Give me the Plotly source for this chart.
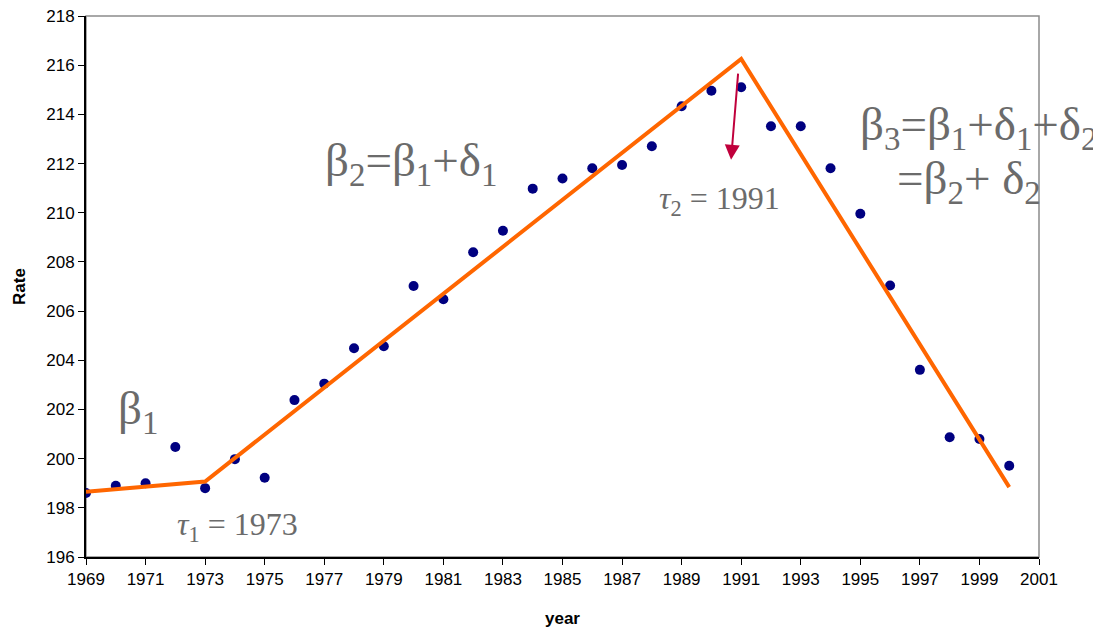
import plotly.graph_objects as go

years = list(range(1969, 2001))
rate = [198.6, 198.9, 199.0, 200.47, 198.8, 199.98, 199.22, 202.38, 203.05, 204.49,
        204.57, 207.02, 206.48, 208.39, 209.27, 210.98, 211.39, 211.81, 211.94, 212.7,
        214.33, 214.96, 215.1, 213.52, 213.52, 211.81, 209.96, 207.04, 203.61, 200.87,
        200.8, 199.71]
fit_years = [1969, 1973, 1991, 2000]
fit_rate = [198.65, 199.07, 216.25, 198.84]

gray = "#6b6b6b"
serif = "Liberation Serif"
tickfont = dict(family="Liberation Sans, Arial", size=17, color="black")

fig = go.Figure()
fig.add_trace(go.Scatter(x=years, y=rate, mode="markers",
                         marker=dict(color="#000080", size=10), showlegend=False))
fig.add_trace(go.Scatter(x=fit_years, y=fit_rate, mode="lines",
                         line=dict(color="#FF6600", width=4), showlegend=False))

fig.update_layout(
    width=1093, height=620,
    margin=dict(l=78, r=62, t=8, b=71),
    plot_bgcolor="white", paper_bgcolor="white",
    font=dict(family="Liberation Sans, Arial", size=17, color="black"),
    xaxis=dict(range=[1969, 2001], tick0=1969, dtick=2, showgrid=False, zeroline=False,
               showline=True, linecolor="black", linewidth=2, ticks="outside", ticklen=6,
               tickcolor="black", tickfont=tickfont, ticklabeloverflow="allow",
               automargin=False,
               title=dict(text="<b>year</b>", standoff=28, font=dict(size=17))),
    yaxis=dict(range=[196, 218], dtick=2, showgrid=False, zeroline=False,
               showline=True, linecolor="black", linewidth=2, ticks="outside", ticklen=6,
               tickcolor="black", tickfont=tickfont, ticklabeloverflow="allow",
               automargin=False,
               title=dict(text="<b>Rate</b>", standoff=16, font=dict(size=17))),
)
fig.add_shape(type="rect", xref="paper", yref="paper", x0=0, y0=0, x1=1, y1=1,
              line=dict(color="#8c8c8c", width=1.5), layer="below")

def txt(x, y, s, size, xanchor="left"):
    fig.add_annotation(x=x, y=y, xref="x", yref="y", text=s, showarrow=False,
                       xanchor=xanchor, yanchor="middle",
                       font=dict(family=serif, size=size, color=gray))

txt(1970.0, 201.9, "β<sub>1</sub>", 47)
txt(1976.95, 212.0, "β<sub>2</sub>=β<sub>1</sub>+δ<sub>1</sub>", 47)
txt(1971.98, 197.25, "<i>τ</i><sub>1</sub> = 1973", 32)
txt(1988.17, 210.5, "<i>τ</i><sub>2</sub> = 1991", 32)
txt(1994.93, 213.45, "β<sub>3</sub>=β<sub>1</sub>+δ<sub>1</sub>+δ<sub>2</sub>", 47)
txt(1996.17, 211.25, "=β<sub>2</sub>+ δ<sub>2</sub>", 47)

fig.add_annotation(x=1990.66, y=212.15, ax=1990.9, ay=215.72, xref="x", yref="y",
                   axref="x", ayref="y", text="", showarrow=True, arrowhead=2,
                   arrowsize=1.5, arrowwidth=2, arrowcolor="#C0003C")

fig.write_html("out.html")
